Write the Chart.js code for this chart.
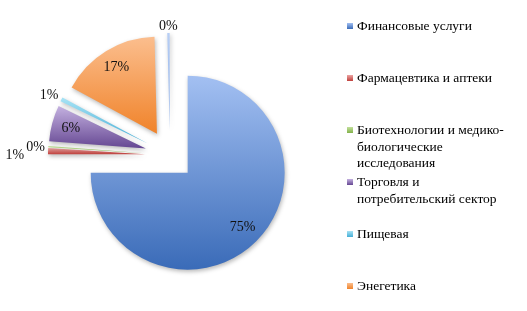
<!DOCTYPE html>
<html>
<head>
<meta charset="utf-8">
<script src="https://cdn.jsdelivr.net/npm/chart.js@4"></script>
<style>
  html, body { margin: 0; padding: 0; background: #fff; }
  #wrap { position: relative; width: 527px; height: 311px; overflow: hidden; }
  #legend { position: absolute; left: 347px; top: 18px; width: 175px;
            font-family: "Liberation Serif", "Times New Roman", serif; font-size: 13.5px;
            line-height: 16.5px; color: #000; }
  .item { height: 52px; display: flex; align-items: flex-start; }
  .box { width: 6px; height: 6px; margin-top: 5px; margin-right: 4px; flex: none; }
  .txt { max-width: 150px; }
</style>
</head>
<body>
<div id="wrap">
  <canvas id="pie" width="527" height="311"></canvas>
  <div id="legend"></div>
</div>
<script>
// sectors of the chart, percent
const categories = [
  'Финансовые услуги',
  'Фармацевтика и аптеки',
  'Биотехнологии и медико-биологические исследования',
  'Торговля и потребительский сектор',
  'Пищевая',
  'Энегетика',
  'Прочие'
];
const shares = [75.0, 1.0, 0.2, 6.0, 0.7, 16.7, 0.4];
// only the first six are listed in the legend of the picture
const legendCount = 6;

// gradient stops, top -> bottom
const colorsTop = ['#A3C0F2', '#EDA5A3', '#C3E09C', '#C4B1E0', '#A8E3F5', '#FBBE8E', '#B8CFF5'];
const colorsBottom = ['#3A6BB8', '#C0403C', '#82B14A', '#654792', '#45AED6', '#F0832A', '#88ABE6'];

const EXPLODE = 25;
const FONT = '14px "Liberation Serif", "Times New Roman", serif';

function sectorYRange(arc) {
  const {x, y, startAngle, endAngle, outerRadius} = arc;
  let ys = [y, y + Math.sin(startAngle) * outerRadius, y + Math.sin(endAngle) * outerRadius];
  [-Math.PI / 2, Math.PI / 2, 3 * Math.PI / 2].forEach(a => {
    if (a > startAngle && a < endAngle) ys.push(y + Math.sin(a) * outerRadius);
  });
  return [Math.min(...ys), Math.max(...ys)];
}

// draws the slices pulled out from the center, with vertical gradients and a soft shadow
const explodedPie = {
  id: 'explodedPie',
  beforeDatasetsDraw(chart) {
    const ctx = chart.ctx;
    const arcs = chart.getDatasetMeta(0).data;
    arcs.forEach((arc, i) => {
      const mid = (arc.startAngle + arc.endAngle) / 2;
      const [y0, y1] = sectorYRange(arc);
      const g = ctx.createLinearGradient(0, y0, 0, y1);
      g.addColorStop(0, colorsTop[i]);
      g.addColorStop(1, colorsBottom[i]);
      arc.options = Object.assign({}, arc.options, {backgroundColor: g, borderWidth: 0, offset: 0});
      ctx.save();
      ctx.translate(Math.cos(mid) * EXPLODE, Math.sin(mid) * EXPLODE);
      ctx.shadowColor = 'rgba(0,0,0,0.28)';
      ctx.shadowBlur = 4;
      ctx.shadowOffsetX = 1;
      ctx.shadowOffsetY = 2;
      arc.draw(ctx);
      ctx.restore();
    });
    return false;
  }
};

// percent labels, inside for big slices, outside for thin ones
const percentLabels = {
  id: 'percentLabels',
  afterDraw(chart) {
    const ctx = chart.ctx;
    const arcs = chart.getDatasetMeta(0).data;
    const total = shares.reduce((a, b) => a + b, 0);
    ctx.save();
    ctx.font = FONT;
    ctx.fillStyle = '#111';
    ctx.textAlign = 'center';
    ctx.textBaseline = 'middle';
    const outside = [];
    arcs.forEach((arc, i) => {
      const text = Math.round(shares[i] / total * 100) + '%';
      const mid = (arc.startAngle + arc.endAngle) / 2;
      const c = Math.cos(mid), s = Math.sin(mid);
      const w = ctx.measureText(text).width, h = 12;
      if (shares[i] >= 3) {
        const d = EXPLODE + arc.outerRadius * 0.8;
        ctx.fillText(text, arc.x + c * d, arc.y + s * d);
      } else {
        const d = arc.outerRadius + EXPLODE + 3 + Math.abs(c) * w / 2 + Math.abs(s) * h / 2;
        outside.push({text, x: arc.x + c * d, y: arc.y + s * d + 2, w, h, dir: c < 0 ? -1 : 1});
      }
    });
    // resolve overlaps: later labels stay, earlier ones are pushed outward
    const placed = [];
    for (let k = outside.length - 1; k >= 0; k--) {
      const L = outside[k];
      placed.forEach(P => {
        const overlapY = Math.abs(L.y - P.y) < (L.h + P.h) / 2;
        const overlapX = Math.abs(L.x - P.x) < (L.w + P.w) / 2 + 2;
        if (overlapX && overlapY) {
          L.x = P.x + L.dir * ((L.w + P.w) / 2 + 2);
          L.y += 3;
        }
      });
      placed.push(L);
      ctx.fillText(L.text, L.x, L.y);
    }
    ctx.restore();
  }
};

new Chart(document.getElementById('pie'), {
  type: 'pie',
  data: {
    labels: categories,
    datasets: [{
      data: shares,
      backgroundColor: colorsBottom,
      borderWidth: 0
    }]
  },
  options: {
    responsive: false,
    animation: false,
    devicePixelRatio: 1,
    radius: 97,
    layout: { padding: { left: 0, right: 187, top: 0, bottom: 1 } },
    plugins: {
      legend: { display: false },
      tooltip: { enabled: false }
    }
  },
  plugins: [explodedPie, percentLabels]
});

const legend = document.getElementById('legend');
categories.slice(0, legendCount).forEach((name, i) => {
  const item = document.createElement('div');
  item.className = 'item';
  const box = document.createElement('div');
  box.className = 'box';
  box.style.background = 'linear-gradient(' + colorsTop[i] + ',' + colorsBottom[i] + ')';
  const txt = document.createElement('div');
  txt.className = 'txt';
  txt.textContent = name;
  item.appendChild(box);
  item.appendChild(txt);
  legend.appendChild(item);
});
</script>
</body>
</html>
